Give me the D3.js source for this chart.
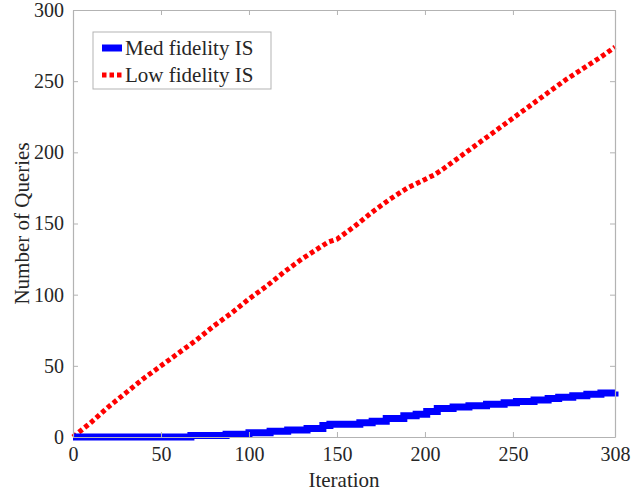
<!DOCTYPE html>
<html>
<head>
<meta charset="utf-8">
<script src="https://cdn.jsdelivr.net/npm/d3@7"></script>
<style>
  html, body { margin: 0; padding: 0; background: #fff; }
  svg { display: block; }
  svg text { font-family: 'Liberation Serif', 'Times New Roman', Times, serif !important; fill: #262626; }
</style>
</head>
<body>
<svg id="chart" width="631" height="492"></svg>
<script>
// Cumulative queries per iteration for each fidelity level
const lowIter   = [0, 10, 20, 30, 40, 50, 60, 70, 80, 90, 100, 110, 120, 130, 140, 145, 150, 160, 170, 180, 190, 200, 205, 210, 220, 230, 240, 250, 260, 270, 280, 290, 300, 308];
const lowValues = [0, 10, 21, 31, 41, 50, 59, 68, 78, 87, 97, 106, 116, 125, 133, 137, 139, 148, 158, 167, 175, 181, 184, 188, 197, 206, 215, 224, 233, 242, 251, 259, 267, 274];

// Medium fidelity counts only change at a few iterations (step function)
const medIter   = [0, 67, 87, 100, 112, 122, 133, 142, 146, 163, 170, 178, 188, 195, 201, 207, 216, 225, 235, 245, 252, 262, 270, 276, 284, 292, 300, 308];
const medValues = [0, 1, 2, 3, 4, 5, 6, 8, 9, 10, 11, 13, 15, 16, 18, 20, 21, 22, 23, 24, 25, 26, 27, 28, 29, 30, 31, 32];

const xTicks = [0, 50, 100, 150, 200, 250, 308];
const yTicks = [0, 50, 100, 150, 200, 250, 300];
const seriesNames = ["Med fidelity IS", "Low fidelity IS"];

const serif = "'Liberation Serif', 'Times New Roman', Times, serif";
const svg = d3.select("#chart");
const m = { left: 73, right: 16, top: 10, bottom: 55 };
const W = 631, H = 492;
const x = d3.scaleLinear().domain([0, 308]).range([m.left, W - m.right]);
const y = d3.scaleLinear().domain([0, 300]).range([H - m.bottom, m.top]);

const axisColor = "#b3b3b3";
const tickLen = 5;

// Series
const lowData = lowIter.map((d, i) => [d, lowValues[i]]);
const medData = medIter.map((d, i) => [d, medValues[i]]);

const plot = svg.append("g");
plot.append("path")
  .datum(lowData)
  .attr("fill", "none")
  .attr("stroke", "#ff0000")
  .attr("stroke-width", 5)
  .attr("stroke-dasharray", "4.5 3")
  .attr("d", d3.line().x(d => x(d[0])).y(d => y(d[1])));

plot.append("path")
  .datum(medData)
  .attr("fill", "none")
  .attr("stroke", "#0000ff")
  .attr("stroke-width", 7)
  .attr("d", d3.line().curve(d3.curveStepAfter).x(d => x(d[0])).y(d => y(d[1])));

// Axes with ticks pointing inward, mirrored on the opposite sides
const xB = svg.append("g").attr("transform", `translate(0,${y(0)})`)
  .call(d3.axisBottom(x).tickValues(xTicks).tickSizeInner(-tickLen).tickSizeOuter(0).tickPadding(10));
const xT = svg.append("g").attr("transform", `translate(0,${y(300)})`)
  .call(d3.axisTop(x).tickValues(xTicks).tickSizeInner(-tickLen).tickSizeOuter(0).tickFormat(""));
const yL = svg.append("g").attr("transform", `translate(${x(0)},0)`)
  .call(d3.axisLeft(y).tickValues(yTicks).tickSizeInner(-tickLen).tickSizeOuter(0).tickPadding(9));
const yR = svg.append("g").attr("transform", `translate(${x(308)},0)`)
  .call(d3.axisRight(y).tickValues(yTicks).tickSizeInner(-tickLen).tickSizeOuter(0).tickFormat(""));

[xB, xT, yL, yR].forEach(g => {
  g.attr("font-family", null);
  g.select(".domain").attr("stroke", axisColor).attr("stroke-width", 1.2);
  g.selectAll(".tick line").attr("stroke", axisColor);
  g.selectAll(".tick text")
    .style("font-family", serif)
    .attr("font-size", 20)
    .attr("fill", "#262626");
});

// Axis labels
svg.append("text")
  .attr("x", (x(0) + x(308)) / 2)
  .attr("y", 487)
  .attr("text-anchor", "middle")
  .style("font-family", serif)
  .attr("font-size", 21)
  .text("Iteration");

svg.append("text")
  .attr("transform", `translate(29,${(y(0) + y(300)) / 2}) rotate(-90)`)
  .attr("text-anchor", "middle")
  .style("font-family", serif)
  .attr("font-size", 21)
  .text("Number of Queries");

// Legend
const lg = svg.append("g").attr("transform", "translate(93,32)");
lg.append("rect")
  .attr("width", 178).attr("height", 57)
  .attr("fill", "#fff")
  .attr("stroke", axisColor).attr("stroke-width", 1);

const legendItems = [
  { name: seriesNames[0], color: "#0000ff", width: 7, dash: null },
  { name: seriesNames[1], color: "#ff0000", width: 5, dash: "4.5 3" }
];
legendItems.forEach((it, i) => {
  const cy = 16 + i * 27;
  lg.append("line")
    .attr("x1", 9).attr("x2", 29).attr("y1", cy).attr("y2", cy)
    .attr("stroke", it.color).attr("stroke-width", it.width)
    .attr("stroke-dasharray", it.dash);
  lg.append("text")
    .attr("x", 32).attr("y", cy + 7)
    .style("font-family", serif)
    .attr("font-size", 21)
    .text(it.name);
});
</script>
</body>
</html>
